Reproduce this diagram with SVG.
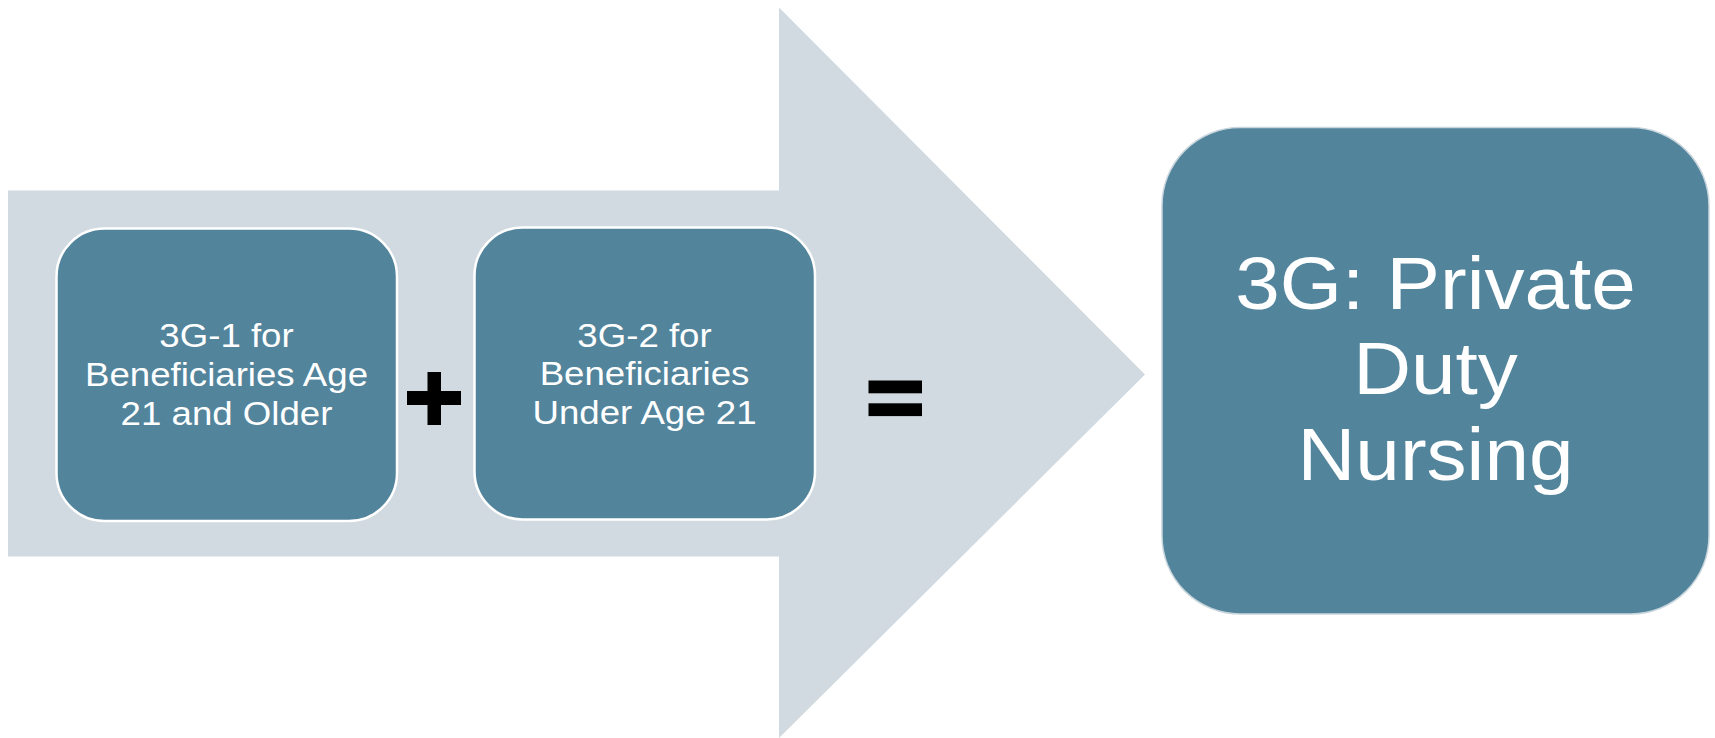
<svg xmlns="http://www.w3.org/2000/svg" width="1715" height="738" viewBox="0 0 1715 738">
<style>
.box{fill:#52849C;stroke:#FFFFFF;stroke-width:2.5}
.big{fill:#52849C;stroke:#C9D6DD;stroke-width:1.5}
.t{font-family:"Liberation Sans",Arial,sans-serif;fill:#FFFFFF;text-anchor:middle}
.s{font-size:33px}
.l{font-size:73.5px}
.op{fill:#000000}
</style>
<rect width="1715" height="738" fill="#FFFFFF"/>
<g id="arrow">
<polygon points="8,190.5 779,190.5 779,7.5 1145,374.5 779,738 779,556.5 8,556.5" fill="#D1DAE0"/>
</g>
<g id="node1">
<rect class="box" x="56.5" y="228.5" width="340.5" height="292.5" rx="48" ry="48"/>
<g transform="translate(226.5,0) scale(1.11,1)">
<text class="t s" x="0" y="347">3G-1 for</text>
<text class="t s" x="0" y="386">Beneficiaries Age</text>
<text class="t s" x="0" y="425">21 and Older</text>
</g>
</g>
<g id="plus">
<rect class="op" x="407" y="391" width="54" height="14"/>
<rect class="op" x="427.5" y="372" width="13.5" height="53"/>
</g>
<g id="node2">
<rect class="box" x="474.5" y="227.5" width="340.5" height="292" rx="48" ry="48"/>
<g transform="translate(644.5,0) scale(1.11,1)">
<text class="t s" x="0" y="347">3G-2 for</text>
<text class="t s" x="0" y="385.5">Beneficiaries</text>
<text class="t s" x="0" y="424">Under Age 21</text>
</g>
</g>
<g id="equals">
<rect class="op" x="868.5" y="380.5" width="53.5" height="12.8"/>
<rect class="op" x="868.5" y="403.3" width="53.5" height="12.8"/>
</g>
<g id="node3">
<rect class="big" x="1162" y="127.5" width="547" height="486.5" rx="78" ry="78"/>
<g transform="translate(1435.5,0) scale(1.09,1)">
<text class="t l" x="0" y="309">3G: Private</text>
<text class="t l" x="0" y="394">Duty</text>
<text class="t l" x="0" y="480">Nursing</text>
</g>
</g>
<g id="connectors"></g>
</svg>
